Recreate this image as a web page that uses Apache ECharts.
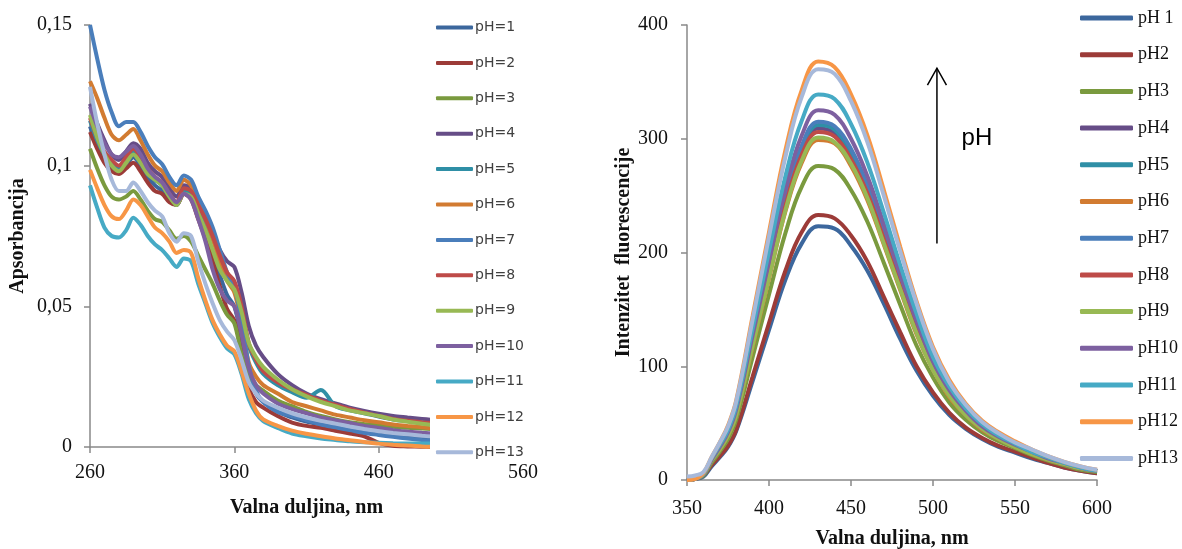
<!DOCTYPE html>
<html><head><meta charset="utf-8">
<script src="https://cdn.jsdelivr.net/npm/echarts@6/dist/echarts.min.js"></script>
<style>html,body{margin:0;padding:0;background:#fff}#c{width:1182px;height:549px}</style>
</head><body><div id="c"></div>
<script>
// ---------- Left chart: absorbance ----------
const absWavelengths = [260,265,270,275,280,285,290,295,300,305,310,315,320,325,330,335,340,345,350,355,360,365,370,375,380,390,400,410,420,430,440,450,460,470,480,490,497];
const absNames = ['pH=1','pH=2','pH=3','pH=4','pH=5','pH=6','pH=7','pH=8','pH=9','pH=10','pH=11','pH=12','pH=13'];
const absPH1  = [0.114,0.107,0.102,0.099,0.098,0.100,0.103,0.100,0.096,0.093,0.091,0.088,0.086,0.090,0.089,0.083,0.077,0.069,0.061,0.054,0.050,0.039,0.026,0.019,0.016,0.0125,0.0105,0.009,0.008,0.007,0.006,0.0052,0.0045,0.004,0.0035,0.0032,0.003];
const absPH2  = [0.112,0.106,0.101,0.098,0.097,0.099,0.101,0.098,0.094,0.091,0.090,0.087,0.086,0.090,0.088,0.081,0.074,0.066,0.057,0.049,0.045,0.034,0.021,0.016,0.014,0.011,0.0087,0.0075,0.0068,0.0058,0.0048,0.0038,0.0015,0.0004,0.0002,0.0001,0];
const absPH3  = [0.106,0.099,0.093,0.089,0.088,0.089,0.091,0.088,0.084,0.081,0.080,0.077,0.074,0.075,0.073,0.068,0.063,0.058,0.052,0.047,0.044,0.033,0.025,0.022,0.020,0.0165,0.0145,0.0125,0.011,0.0098,0.0088,0.0082,0.0077,0.0072,0.0068,0.0066,0.0064];
const absPH4  = [0.122,0.115,0.109,0.104,0.102,0.105,0.108,0.106,0.101,0.098,0.096,0.092,0.089,0.093,0.092,0.086,0.081,0.076,0.070,0.066,0.064,0.055,0.043,0.036,0.032,0.026,0.022,0.019,0.017,0.0155,0.014,0.0128,0.0118,0.011,0.0105,0.010,0.0096];
const absPH5  = [0.116,0.109,0.104,0.101,0.099,0.102,0.105,0.102,0.098,0.095,0.093,0.089,0.086,0.091,0.090,0.085,0.080,0.074,0.067,0.061,0.058,0.048,0.036,0.030,0.026,0.022,0.0195,0.0175,0.0203,0.0145,0.013,0.012,0.0108,0.0098,0.0092,0.0087,0.0083];
const absPH6  = [0.130,0.124,0.117,0.111,0.109,0.111,0.113,0.109,0.104,0.100,0.098,0.094,0.091,0.095,0.093,0.087,0.081,0.074,0.066,0.059,0.055,0.044,0.030,0.025,0.022,0.019,0.016,0.0145,0.013,0.0115,0.0105,0.0095,0.0088,0.008,0.0075,0.007,0.0066];
const absPH7  = [0.150,0.138,0.127,0.119,0.114,0.1155,0.1155,0.112,0.107,0.103,0.1005,0.096,0.093,0.0965,0.095,0.089,0.084,0.078,0.070,0.062,0.057,0.045,0.029,0.020,0.016,0.0125,0.011,0.0095,0.008,0.007,0.006,0.005,0.0043,0.0036,0.003,0.0025,0.0022];
const absPH8  = [0.117,0.110,0.105,0.102,0.100,0.103,0.106,0.103,0.099,0.096,0.094,0.090,0.087,0.092,0.091,0.086,0.081,0.075,0.068,0.062,0.059,0.050,0.037,0.031,0.027,0.023,0.0205,0.0185,0.0165,0.015,0.0135,0.0122,0.011,0.010,0.0093,0.0088,0.0085];
const absPH9  = [0.118,0.110,0.104,0.100,0.098,0.101,0.104,0.101,0.097,0.095,0.093,0.089,0.086,0.090,0.089,0.083,0.077,0.070,0.063,0.059,0.056,0.048,0.037,0.032,0.0285,0.024,0.0205,0.018,0.016,0.0145,0.013,0.012,0.011,0.0098,0.009,0.0083,0.0078];
const absPH10 = [0.121,0.114,0.108,0.104,0.103,0.105,0.107,0.104,0.099,0.096,0.094,0.090,0.087,0.090,0.088,0.081,0.073,0.063,0.056,0.052,0.050,0.040,0.028,0.022,0.019,0.0155,0.0135,0.012,0.0105,0.0095,0.0085,0.0075,0.0068,0.006,0.0055,0.0051,0.0049];
const absPH11 = [0.093,0.085,0.078,0.075,0.0745,0.077,0.0815,0.079,0.075,0.072,0.070,0.067,0.064,0.067,0.066,0.058,0.051,0.044,0.039,0.035,0.033,0.026,0.017,0.012,0.0092,0.0068,0.0048,0.0038,0.003,0.0025,0.002,0.0017,0.0015,0.0013,0.0012,0.0012,0.0012];
const absPH12 = [0.0985,0.092,0.086,0.082,0.081,0.084,0.088,0.086,0.082,0.078,0.076,0.073,0.069,0.070,0.069,0.060,0.052,0.045,0.040,0.036,0.034,0.027,0.019,0.013,0.0098,0.0075,0.0058,0.0047,0.0038,0.003,0.0024,0.0018,0.0012,0.0008,0.0005,0.0002,0.0001];
const absPH13 = [0.128,0.115,0.104,0.095,0.091,0.091,0.094,0.091,0.087,0.084,0.082,0.076,0.073,0.076,0.075,0.066,0.058,0.051,0.045,0.041,0.038,0.031,0.023,0.019,0.0165,0.014,0.012,0.0105,0.0093,0.0083,0.0073,0.0064,0.0056,0.005,0.0045,0.004,0.0037];
const absYTickLabels = ['0','0,05','0,1','0,15'];

// ---------- Right chart: fluorescence ----------
const flWavelengths = [350,355,360,365,370,375,380,390,400,410,420,430,440,450,460,470,480,490,500,510,520,530,540,550,560,570,580,590,600];
const flNames = ['pH 1','pH2','pH3','pH4','pH5','pH6','pH7','pH8','pH9','pH10','pH11','pH12','pH13'];
const flPH1  = [0,1,3,12,20,29,43,87,132,176,208,223,221,206,184,155,124,96,74,57,45,36,29,24,19,15,11,8,6];
const flPH2  = [0,1,4,13,21,30,44,91,138,184,218,233,230,215,192,161,130,100,77,59,46,37,30,25,20,15,11,8,6];
const flPH3  = [0,1,4,15,25,36,53,108,163,217,258,276,273,255,227,191,154,118,90,68,53,42,34,28,22,17,13,9,7];
const flPH4  = [0,1,5,17,28,40,59,121,183,243,288,309,305,285,254,214,172,133,100,75,58,46,37,30,24,19,14,10,8];
const flPH5  = [0,1,5,17,28,41,59,122,185,246,291,312,308,288,257,216,174,134,100,76,59,46,37,30,24,19,14,10,8];
const flPH6  = [0,1,5,17,27,39,57,117,177,236,279,299,296,276,246,207,167,128,97,73,57,44,36,29,23,18,14,10,8];
const flPH7  = [0,1,5,17,28,41,60,123,186,248,294,315,311,291,259,218,175,135,101,77,59,46,37,30,24,19,14,10,8];
const flPH8  = [0,1,5,17,28,40,58,120,181,241,286,306,302,282,252,212,170,131,99,75,58,45,36,30,24,18,14,10,8];
const flPH9  = [0,1,5,17,27,39,57,118,178,237,281,301,297,278,248,208,168,129,97,74,57,45,36,29,23,18,14,10,8];
const flPH10 = [0,1,5,18,29,42,62,127,192,256,303,325,321,300,267,225,181,140,104,79,61,47,38,31,25,19,15,11,8];
const flPH11 = [0,1,5,19,31,44,65,133,201,267,316,339,335,313,279,235,189,146,108,82,63,49,39,32,25,20,15,11,8];
const flPH12 = [0,1,6,20,33,48,70,144,218,290,343,368,363,339,303,255,205,157,117,88,67,52,42,34,27,21,16,12,9];
const flPH13 = [3,4,7,20,33,47,69,141,214,284,337,361,357,333,297,250,201,155,115,86,66,51,41,33,27,21,16,12,9];

const colors = ['#3C679D','#9C3B38','#7A9A3E','#664D87','#2F8FA6','#D27B31','#4A7EBB','#BE4B48','#98B954','#7D60A0','#46AAC5','#F79646','#A7B9DA'];

const absSeriesValues = [absPH1,absPH2,absPH3,absPH4,absPH5,absPH6,absPH7,absPH8,absPH9,absPH10,absPH11,absPH12,absPH13];
const flSeriesValues = [flPH1,flPH2,flPH3,flPH4,flPH5,flPH6,flPH7,flPH8,flPH9,flPH10,flPH11,flPH12,flPH13];

const serif = 'Liberation Serif';
const axisColor = '#898989';
const textColor = '#111';

function axisCommon(labelMargin) {
  return {
    axisLine: {show: true, lineStyle: {color: axisColor, width: 1.5}},
    axisTick: {show: true, length: 6, lineStyle: {color: axisColor, width: 1.5}},
    splitLine: {show: false},
    axisLabel: {fontFamily: serif, fontSize: 20, color: textColor, margin: labelMargin},
    nameLocation: 'middle',
    nameTextStyle: {fontFamily: serif, fontSize: 20, fontWeight: 'bold', color: textColor}
  };
}

const series = [];
absSeriesValues.forEach((vals, i) => {
  series.push({
    name: absNames[i], type: 'line', xAxisIndex: 0, yAxisIndex: 0,
    data: absWavelengths.map((w, j) => [w, vals[j]]),
    symbol: 'none', smooth: 0.3, color: colors[i],
    lineStyle: {width: 4, color: colors[i]}
  });
});
flSeriesValues.forEach((vals, i) => {
  series.push({
    name: flNames[i], type: 'line', xAxisIndex: 1, yAxisIndex: 1,
    data: flWavelengths.map((w, j) => [w, vals[j]]),
    symbol: 'none', smooth: 0.4, color: colors[i],
    lineStyle: {width: 4, color: colors[i]}
  });
});

const chart = echarts.init(document.getElementById('c'), null, {renderer: 'canvas'});
chart.setOption({
  animation: false,
  backgroundColor: '#fff',
  grid: [
    {left: 90, right: 1182 - 523, top: 25, bottom: 549 - 447, containLabel: false, outerBoundsMode: 'none'},
    {left: 687, right: 1182 - 1097, top: 25, bottom: 549 - 480, containLabel: false, outerBoundsMode: 'none'}
  ],
  xAxis: [
    Object.assign(axisCommon(16), {gridIndex: 0, type: 'value', min: 260, max: 560, interval: 100,
      name: 'Valna duljina, nm', nameGap: 51}),
    Object.assign(axisCommon(19), {gridIndex: 1, type: 'value', min: 350, max: 600, interval: 50,
      name: 'Valna duljina, nm', nameGap: 49})
  ],
  yAxis: [
    Object.assign(axisCommon(18), {gridIndex: 0, type: 'value', min: 0, max: 0.15, interval: 0.05,
      name: 'Apsorbancija', nameGap: 62}),
    Object.assign(axisCommon(19), {gridIndex: 1, type: 'value', min: 0, max: 400, interval: 100,
      name: 'Intenzitet  fluorescencije', nameGap: 52})
  ],
  legend: [
    {
      data: absNames, orient: 'vertical', left: 430, top: 15.5,
      padding: [4, 6, 3, 6], backgroundColor: '#fff',
      icon: 'roundRect', itemWidth: 37, itemHeight: 4, itemGap: 19.4,
      textStyle: {fontFamily: 'DejaVu Sans', fontSize: 14, color: '#404040', lineHeight: 16, padding: [0, 0, 0, -3]},
      selectedMode: false
    },
    {
      data: flNames, orient: 'vertical', left: 1080, top: 8,
      padding: 0,
      icon: 'roundRect', itemWidth: 53, itemHeight: 5, itemGap: 16.7,
      textStyle: {fontFamily: serif, fontSize: 18, color: textColor, lineHeight: 20, padding: [0, 0, 0, 0]},
      selectedMode: false
    }
  ],
  series: series
});
// left y-axis tick labels use a decimal comma
chart.setOption({
  yAxis: [
    {axisLabel: {formatter: v => absYTickLabels[Math.round(v / 0.05)]}},
    {}
  ]
});

// arrow annotation with "pH" label, placed in data coordinates of the right chart
const pBottom = chart.convertToPixel({xAxisIndex: 1, yAxisIndex: 1}, [502.4, 208]);
const pTop = chart.convertToPixel({xAxisIndex: 1, yAxisIndex: 1}, [502.4, 362]);
const pText = chart.convertToPixel({xAxisIndex: 1, yAxisIndex: 1}, [526.8, 300]);
chart.setOption({
  graphic: [
    {type: 'line', shape: {x1: pBottom[0], y1: pBottom[1], x2: pTop[0], y2: pTop[1]}, style: {stroke: '#000', lineWidth: 1.5}},
    {type: 'polyline', shape: {points: [[pTop[0] - 9.5, pTop[1] + 17], [pTop[0], pTop[1]], [pTop[0] + 9.5, pTop[1] + 17]]}, style: {stroke: '#000', lineWidth: 1.5, fill: null}},
    {type: 'text', x: pText[0], y: pText[1], style: {text: 'pH', font: '24px "Liberation Sans"', fill: '#000', textAlign: 'center', textVerticalAlign: 'middle'}}
  ]
});
</script>
</body></html>
